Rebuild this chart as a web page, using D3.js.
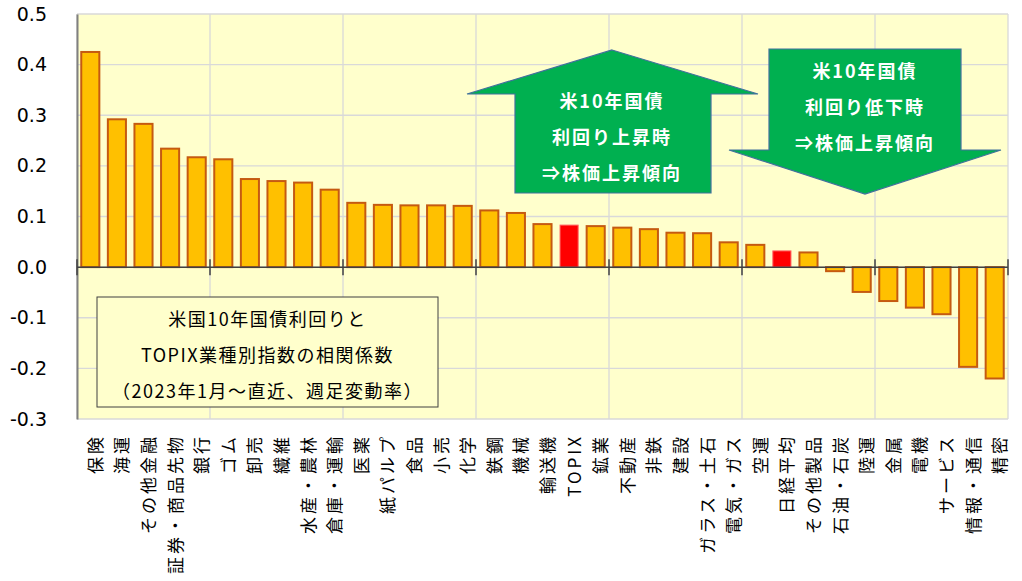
<!DOCTYPE html>
<html>
<head>
<meta charset="utf-8">
<script src="https://cdn.jsdelivr.net/npm/d3@7"></script>
<style>
  body { margin: 0; background: #fff; }
  svg { display: block; }
</style>
</head>
<body>
<script>
// categories in chart order (largest correlation first)
const categories = ['保険', '海運', 'その他金融', '証券・商品先物', '銀行', 'ゴム', '卸売', '繊維',
	'水産・農林', '倉庫・運輸', '医薬', '紙パルプ', '食品', '小売', '化学', '鉄鋼', '機械', '輸送機',
	'TOPIX', '鉱業', '不動産', '非鉄', '建設', 'ガラス・土石', '電気・ガス', '空運', '日経平均',
	'その他製品', '石油・石炭', '陸運', '金属', '電機', 'サービス', '情報・通信', '精密']

const values = [0.425, 0.292, 0.283, 0.234, 0.217, 0.213, 0.174, 0.170,
	0.167, 0.153, 0.127, 0.123, 0.122, 0.122, 0.121, 0.112, 0.107, 0.085,
	0.083, 0.081, 0.078, 0.075, 0.068, 0.067, 0.049, 0.044, 0.032,
	0.029, -0.008, -0.049, -0.067, -0.080, -0.093, -0.197, -0.220]

const highlighted = ['TOPIX', '日経平均']
const yTicks = [0.5, 0.4, 0.3, 0.2, 0.1, 0.0, -0.1, -0.2, -0.3]

const noteLines = ['米国10年国債利回りと', 'TOPIX業種別指数の相関係数', '（2023年1月～直近、週足変動率）']
const upLines = ['米10年国債', '利回り上昇時', '⇒株価上昇傾向']
const downLines = ['米10年国債', '利回り低下時', '⇒株価上昇傾向']

const svgw = 1022
const svgh = 581
const padL = 77, padR = 1008, padT = 14, padB = 419
const jp = '"Noto Sans CJK JP", "Noto Sans", sans-serif'

const svg = d3.select('body').append('svg').attr('width', svgw).attr('height', svgh)

const x = d3.scaleBand()
	.domain(categories)
	.range([padL, padR])
	.paddingInner(0.32)
	.paddingOuter(0.16)

const y = d3.scaleLinear()
	.domain([-0.3, 0.5])
	.range([padB, padT])

// plot background
svg.append('rect')
	.attr('x', padL).attr('y', padT)
	.attr('width', padR - padL).attr('height', padB - padT)
	.attr('fill', '#FFFFCC')

// gridlines
svg.append('g').selectAll('line')
	.data(yTicks)
	.enter().append('line')
	.attr('x1', padL).attr('x2', padR)
	.attr('y1', d => y(d)).attr('y2', d => y(d))
	.attr('stroke', '#D9D9D9').attr('stroke-width', 1.3)

const bounds = d3.range(0, categories.length + 1, 5)
svg.append('g').selectAll('line')
	.data(bounds)
	.enter().append('line')
	.attr('x1', i => padL + i * x.step()).attr('x2', i => padL + i * x.step())
	.attr('y1', padT).attr('y2', padB)
	.attr('stroke', '#D9D9D9').attr('stroke-width', 1.3)

// note box
svg.append('rect')
	.attr('x', 97).attr('y', 297).attr('width', 341).attr('height', 110)
	.attr('fill', '#FFFFCC').attr('stroke', '#404040').attr('stroke-width', 1)

svg.append('g').selectAll('text')
	.data(noteLines)
	.enter().append('text')
	.attr('x', 267.5)
	.attr('y', (d, i) => 318 + i * 36)
	.attr('text-anchor', 'middle')
	.attr('dominant-baseline', 'central')
	.attr('font-family', jp)
	.attr('font-size', 18)
	.attr('letter-spacing', 1.5)
	.attr('fill', '#000')
	.text(d => d)

// bars
svg.append('g').selectAll('rect')
	.data(categories)
	.enter().append('rect')
	.attr('x', d => x(d))
	.attr('width', x.bandwidth())
	.attr('y', (d, i) => y(Math.max(0, values[i])))
	.attr('height', (d, i) => Math.abs(y(values[i]) - y(0)))
	.attr('fill', d => highlighted.includes(d) ? '#FF0000' : '#FFC000')
	.attr('stroke', d => highlighted.includes(d) ? '#FF6060' : '#C55A11')
	.attr('stroke-width', d => highlighted.includes(d) ? 1 : 2)

// left axis
const yAxis = d3.axisLeft(y)
	.tickValues(yTicks)
	.tickSize(0)
	.tickPadding(30)
	.tickFormat(d => d.toFixed(1))

svg.append('g')
	.attr('transform', `translate(${padL},0)`)
	.call(yAxis)
	.call(g => g.select('.domain').attr('stroke', '#808080').attr('stroke-width', 2))
	.call(g => g.selectAll('text')
		.attr('font-family', 'Verdana, "DejaVu Sans", sans-serif')
		.attr('font-size', 19)
		.attr('fill', '#000'))

// zero line with ticks every 5 categories
svg.append('line')
	.attr('x1', padL).attr('x2', padR)
	.attr('y1', y(0)).attr('y2', y(0))
	.attr('stroke', '#404040').attr('stroke-width', 1.5)

svg.append('g').selectAll('line')
	.data(bounds)
	.enter().append('line')
	.attr('x1', i => padL + i * x.step()).attr('x2', i => padL + i * x.step())
	.attr('y1', y(0) - 8).attr('y2', y(0) + 8)
	.attr('stroke', '#404040').attr('stroke-width', 1.5)

// category labels, rotated to read bottom to top
const xAxis = d3.axisBottom(x).tickSize(0)
const xg = svg.append('g')
	.attr('transform', 'translate(0,434)')
	.call(xAxis)
xg.select('.domain').remove()
xg.selectAll('text')
	.attr('x', 0).attr('y', 0).attr('dy', null)
	.attr('transform', 'translate(4,0) rotate(-90)')
	.attr('text-anchor', 'end')
	.attr('dominant-baseline', 'central')
	.attr('font-family', jp)
	.attr('font-size', 17)
	.attr('letter-spacing', 3)
	.attr('fill', '#000')

// arrows
const arrowGreen = '#00B050'
const arrowEdge = '#41719C'
const upArrow = [[612, 50], [758, 94], [711, 94], [711, 193], [515, 193], [515, 94], [467, 94]]
const downArrow = [[769, 49], [961, 49], [961, 150], [1001, 150], [865, 194], [729, 150], [769, 150]]

svg.append('path')
	.attr('d', d3.line()(upArrow) + 'Z')
	.attr('fill', arrowGreen).attr('stroke', arrowEdge).attr('stroke-width', 1.2)
svg.append('path')
	.attr('d', d3.line()(downArrow) + 'Z')
	.attr('fill', arrowGreen).attr('stroke', arrowEdge).attr('stroke-width', 1.2)

svg.append('g').selectAll('text')
	.data(upLines)
	.enter().append('text')
	.attr('x', 612)
	.attr('y', (d, i) => 100 + i * 36)
	.attr('text-anchor', 'middle')
	.attr('dominant-baseline', 'central')
	.attr('font-family', jp)
	.attr('font-weight', 'bold')
	.attr('font-size', 18)
	.attr('letter-spacing', 2)
	.attr('fill', '#fff')
	.text(d => d)

svg.append('g').selectAll('text')
	.data(downLines)
	.enter().append('text')
	.attr('x', 865)
	.attr('y', (d, i) => 70 + i * 36)
	.attr('text-anchor', 'middle')
	.attr('dominant-baseline', 'central')
	.attr('font-family', jp)
	.attr('font-weight', 'bold')
	.attr('font-size', 18)
	.attr('letter-spacing', 2)
	.attr('fill', '#fff')
	.text(d => d)
</script>
</body>
</html>
